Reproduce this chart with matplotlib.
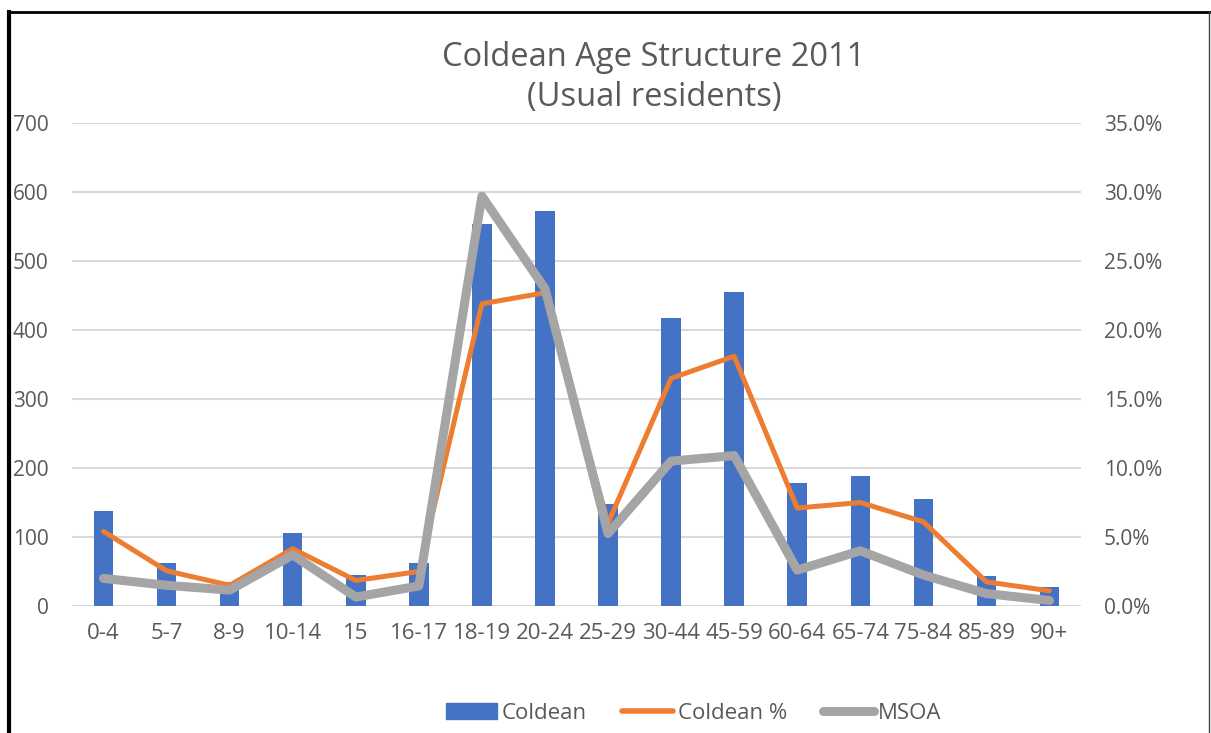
import matplotlib.pyplot as plt
from matplotlib.lines import Line2D
from matplotlib.patches import Patch
from matplotlib.ticker import FuncFormatter
import numpy as np

ages = ['0-4', '5-7', '8-9', '10-14', '15', '16-17', '18-19', '20-24', '25-29',
        '30-44', '45-59', '60-64', '65-74', '75-84', '85-89', '90+']
coldean = [138, 63, 35, 106, 45, 63, 554, 573, 148, 417, 455, 178, 189, 155, 43, 28]
coldean_pct = [5.4, 2.55, 1.5, 4.15, 1.85, 2.5, 21.9, 22.7, 6.0, 16.5, 18.1, 7.1, 7.5,
               6.1, 1.75, 1.1]
msoa_pct = [2.0, 1.5, 1.15, 3.7, 0.65, 1.45, 29.7, 23.0, 5.25, 10.5, 10.9, 2.6, 4.0,
            2.25, 0.9, 0.4]

plt.rcParams['font.family'] = ['Open Sans', 'DejaVu Sans']
grey_txt = '#595959'

fig = plt.figure(figsize=(12.11, 7.33), dpi=100)
ax = fig.add_axes([72 / 1211, 127 / 733, (1081 - 72) / 1211, 483 / 733])
ax2 = ax.twinx()

x = np.arange(len(ages))
ax.bar(x, coldean, width=0.31, color='#4472c4', zorder=2)
ax.set_ylim(0, 700)
ax.set_xlim(-0.5, len(ages) - 0.5)
ax.set_yticks(range(0, 701, 100))
ax.set_xticks(x)
ax.set_xticklabels(ages)
ax.grid(axis='y', color='#d9d9d9', linewidth=1.5, zorder=0)
ax.set_axisbelow(True)

ax2.plot(x, coldean_pct, color='#ed7d31', linewidth=3.6, solid_joinstyle='round',
         solid_capstyle='round', zorder=3)
ax2.plot(x, msoa_pct, color='#a5a5a5', linewidth=6.5, solid_joinstyle='round',
         solid_capstyle='round', zorder=4)
ax2.set_ylim(0, 35)
ax2.set_yticks(range(0, 36, 5))
ax2.yaxis.set_major_formatter(FuncFormatter(lambda v, p: '%.1f%%' % v))

for a in (ax, ax2):
    for s in a.spines.values():
        s.set_visible(False)
    a.tick_params(length=0, labelsize=16, colors=grey_txt)
ax.tick_params(axis='y', pad=17, labelsize=15)
ax.tick_params(axis='x', pad=12)
ax2.tick_params(axis='y', pad=16.5, labelsize=15)

fig.text(0.54, 0.894, 'Coldean Age Structure 2011\n(Usual residents)', ha='center',
         va='center', fontsize=23.5, color=grey_txt, linespacing=1.3)

handles = [Patch(color='#4472c4'),
           Line2D([], [], color='#ed7d31', linewidth=4, solid_capstyle='round'),
           Line2D([], [], color='#a5a5a5', linewidth=6.5, solid_capstyle='round')]
fig.legend(handles, ['Coldean', 'Coldean %', 'MSOA'], loc='center',
           bbox_to_anchor=(0.573, 0.027), ncol=3, frameon=False, fontsize=16,
           labelcolor=grey_txt, handlelength=2.3, handletextpad=0.2, columnspacing=1.6)

# chart border
fig.add_artist(Line2D([9 / 1211, 9 / 1211], [0, 1 - 12 / 733], color='black',
                      linewidth=3, transform=fig.transFigure))
fig.add_artist(Line2D([8 / 1211, 1209 / 1211], [1 - 12 / 733, 1 - 12 / 733],
                      color='black', linewidth=2, transform=fig.transFigure))
fig.add_artist(Line2D([1209 / 1211, 1209 / 1211], [0, 1 - 12 / 733], color='#404040',
                      linewidth=1, transform=fig.transFigure))

fig.savefig('out.png', dpi=100)
